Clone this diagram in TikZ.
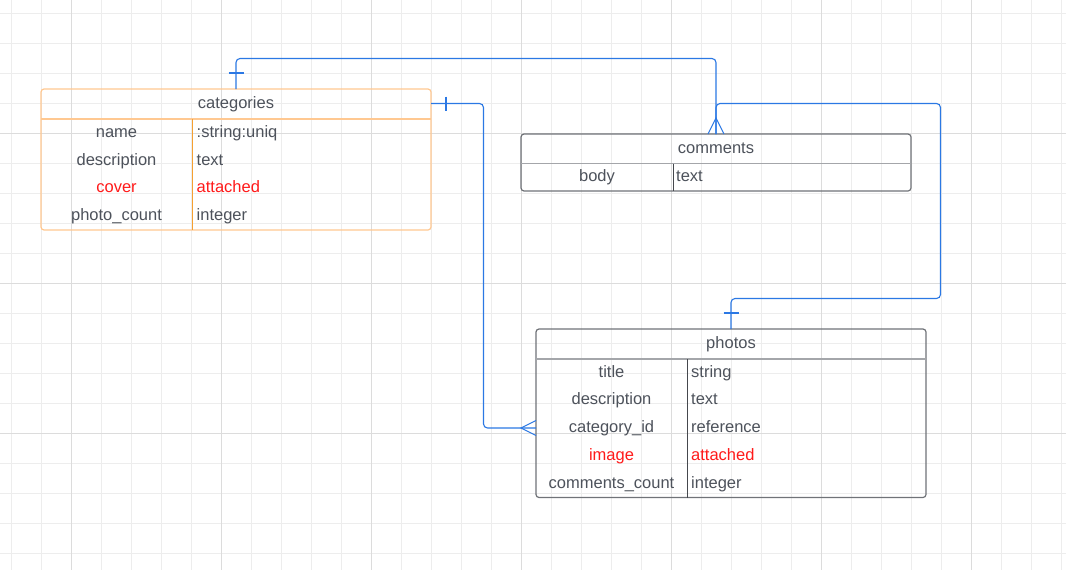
\documentclass[tikz,border=0pt]{standalone}
\usepackage{fontspec}
\setmainfont{Liberation Sans}
\usetikzlibrary{calc}
\definecolor{txt}{HTML}{4D525B}
\definecolor{redt}{HTML}{FF1A1A}
\definecolor{orL}{HTML}{FFC891}
\definecolor{orD}{HTML}{F5A031}
\definecolor{grO}{HTML}{707378}
\definecolor{grS}{HTML}{A4A6AA}
\definecolor{grD}{HTML}{45484D}
\definecolor{connc}{HTML}{2B78E4}
\definecolor{gmin}{HTML}{EDEDED}
\definecolor{gmaj}{HTML}{DCDCDC}
\begin{document}
\begin{tikzpicture}[x=1pt,y=-1pt,
 tbl/.style={draw, rectangle, rounded corners=3pt, line width=1.2pt, anchor=north west, inner sep=0pt, outer sep=0pt},
 lbl/.style={font=\fontsize{16.5}{18}\selectfont, text=txt, inner sep=0pt, anchor=mid, yshift=-3.8pt},
 typ/.style={lbl, anchor=mid west},
 hot/.style={text=redt},
 cline/.style={draw=connc, line width=1.1pt, rounded corners=4pt},
 cmark/.style={draw=connc, line width=1.1pt},
 hsep/.style={line width=1.5pt},
 csep/.style={line width=1pt}
]
\useasboundingbox[fill=white] (0,0) rectangle (1066,570);
% grid
\foreach \i in {0,...,35} \draw[gmin, line width=1pt] (11.5+30*\i,0) -- (11.5+30*\i,570);
\foreach \j in {0,...,18} \draw[gmin, line width=1pt] (0,13.5+30*\j) -- (1066,13.5+30*\j);
\foreach \i in {0,...,6} \draw[gmaj, line width=1pt] (71.5+150*\i,0) -- (71.5+150*\i,570);
\foreach \j in {0,...,2} \draw[gmaj, line width=1pt] (0,133.5+150*\j) -- (1066,133.5+150*\j);

% categories
\node[tbl, draw=orL, minimum width=390pt, minimum height=141pt] (cat) at (41,89) {};
\draw[orL, hsep] ($(cat.north west)+(0,30)$) -- ($(cat.north east)+(0,30)$);
\draw[orD, csep] ($(cat.north west)+(151,30)$) -- ($(cat.south west)+(151,0)$);
\node[lbl] (catH) at (236,102.3) {categories};
\node[lbl] (c1n) at (116.5,131) {name};
\node[typ] (c1t) at (196.5,131) {:string:uniq};
\node[lbl] (c2n) at (116.5,158.7) {description};
\node[typ] (c2t) at (196.5,158.7) {text};
\node[lbl, hot] (c3n) at (116.5,186.4) {cover};
\node[typ, hot] (c3t) at (196.5,186.4) {attached};
\node[lbl] (c4n) at (116.5,214) {photo\_count};
\node[typ] (c4t) at (196.5,214) {integer};

% comments
\node[tbl, draw=grO, minimum width=390pt, minimum height=57pt] (com) at (521,134) {};
\draw[grS, hsep] ($(com.north west)+(0,29.5)$) -- ($(com.north east)+(0,29.5)$);
\draw[grD, csep] ($(com.north west)+(152,29.5)$) -- ($(com.south west)+(152,0)$);
\node[lbl] (comH) at (716,147) {comments};
\node[lbl] (m1n) at (597,175.3) {body};
\node[typ] (m1t) at (676,175.3) {text};

% photos
\node[tbl, draw=grO, minimum width=390pt, minimum height=168.5pt] (pho) at (536,329) {};
\draw[grS, hsep] ($(pho.north west)+(0,30)$) -- ($(pho.north east)+(0,30)$);
\draw[grD, csep] ($(pho.north west)+(151.3,30)$) -- ($(pho.south west)+(151.3,0)$);
\node[lbl] (phoH) at (731,342) {photos};
\node[lbl] (p1n) at (611.5,370.8) {title};
\node[typ] (p1t) at (691,370.8) {string};
\node[lbl] (p2n) at (611.5,398.5) {description};
\node[typ] (p2t) at (691,398.5) {text};
\node[lbl] (p3n) at (611.5,426.2) {category\_id};
\node[typ] (p3t) at (691,426.2) {reference};
\node[lbl, hot] (p4n) at (611.5,453.9) {image};
\node[typ, hot] (p4t) at (691,453.9) {attached};
\node[lbl] (p5n) at (611.5,481.6) {comments\_count};
\node[typ] (p5t) at (691,481.6) {integer};

% connector categories -> comments
\coordinate (k1) at (716,58.5);
\draw[cline] (cat.north) |- (k1) -- (com.north);
\draw[cmark] ($(cat.north)+(-7.5,-16)$) -- ($(cat.north)+(7.5,-16)$);
\draw[cmark] ($(com.north)+(-8,0)$) -- ($(com.north)+(0,-16)$) -- ($(com.north)+(8,0)$);

% connector categories -> photos
\coordinate (catR) at ($(cat.north east)+(0,14.5)$);
\coordinate (phoL) at ($(pho.north west)+(0,99)$);
\coordinate (k2) at (483.5,0);
\draw[cline] (catR) -| (k2 |- phoL) -- (phoL);
\draw[cmark] ($(catR)+(15,-7)$) -- ($(catR)+(15,7)$);
\draw[cmark] ($(phoL)+(0,-7.5)$) -- ($(phoL)+(-15,0)$) -- ($(phoL)+(0,7.5)$);

% connector photos -> comments
\coordinate (k3a) at (940.5,298.5);
\coordinate (k3b) at (940.5,103.5);
\draw[cline] (pho.north) |- (k3a) -- (k3b) -| (com.north);
\draw[cmark] ($(pho.north)+(-7.5,-16)$) -- ($(pho.north)+(7.5,-16)$);
\end{tikzpicture}
\end{document}
